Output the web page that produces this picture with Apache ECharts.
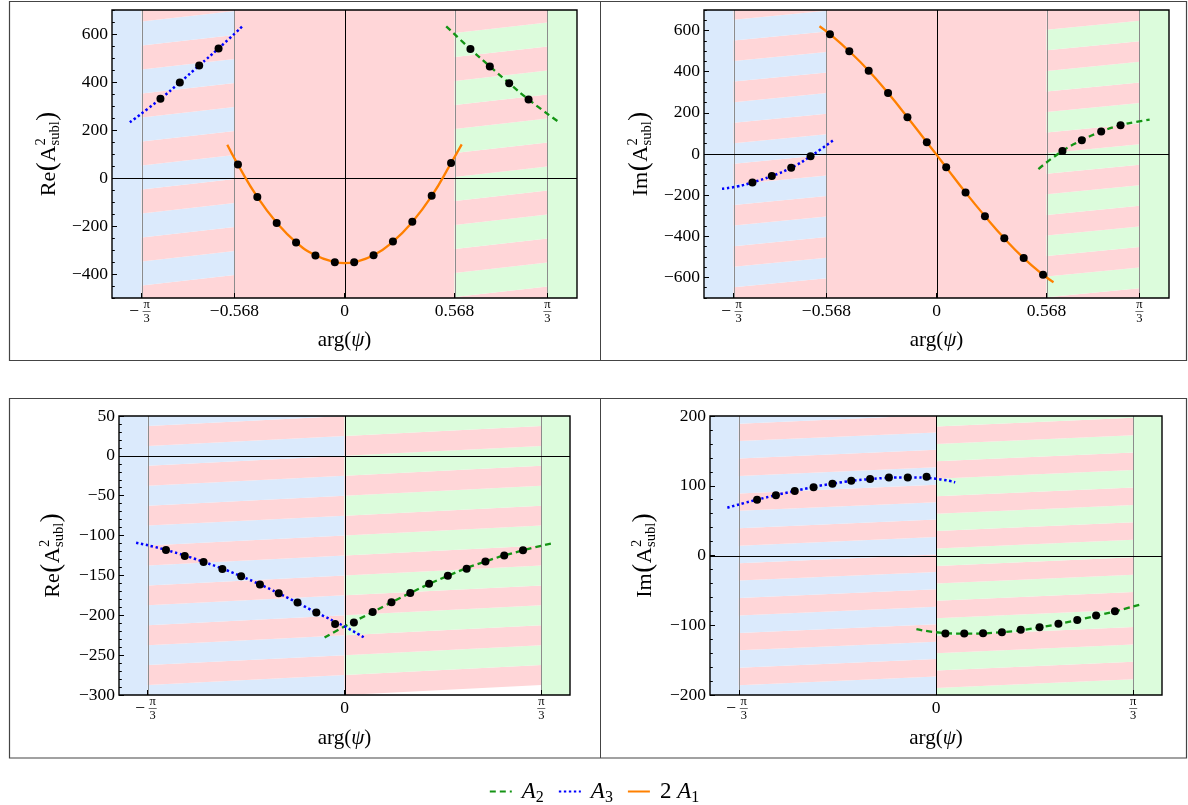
<!DOCTYPE html>
<html><head><meta charset="utf-8">
<script src="https://cdn.jsdelivr.net/npm/echarts@6/dist/echarts.min.js"></script>
<style>html,body{margin:0;padding:0;background:#fff;}#c{width:1188px;height:805px;}</style>
</head><body><div id="c"></div>
<script>
const PI3 = Math.PI / 3;

// ---------------- tick values ----------------
const xTicksTop = [-PI3, -0.568, 0, 0.568, PI3];
const xLabelsTop = [-0.568, 0, 0.568];
const xTicksBot = [-PI3, 0, PI3];
const xLabelsBot = [0];
const yTicks1 = [-400, -200, 0, 200, 400, 600];
const yTicks2 = [-600, -400, -200, 0, 200, 400, 600];
const yTicks3 = [-300, -250, -200, -150, -100, -50, 0, 50];
const yTicks4 = [-200, -100, 0, 100, 200];

// ---------------- data: dot x positions ----------------
const xA1dots = [-0.55, -0.45, -0.35, -0.25, -0.15, -0.05, 0.05, 0.15, 0.25, 0.35, 0.45, 0.55];
const xA3dotsTop = [-0.95, -0.85, -0.75, -0.65];
const xA2dotsTop = [0.65, 0.75, 0.85, 0.95];
const xA3dotsBot = [-0.95, -0.85, -0.75, -0.65, -0.55, -0.45, -0.35, -0.25, -0.15, -0.05];
const xA2dotsBot = [0.05, 0.15, 0.25, 0.35, 0.45, 0.55, 0.65, 0.75, 0.85, 0.95];

// Panel 1: Re, top left
const p1_A1_dots = [56, -79, -187, -269, -323, -351, -351, -322, -265, -182, -74, 63];
const p1_A3_dots = [330, 398, 469, 540];
const p1_A2_dots = [537, 465, 395, 327];
const p1_A1_cx = [-0.605, -0.55, -0.45, -0.35, -0.25, -0.15, -0.05, 0, 0.05, 0.15, 0.25, 0.35, 0.45, 0.55, 0.605];
const p1_A1_cy = [139, 56, -79, -186, -268, -322, -350, -355, -350, -322, -265, -183, -75, 62, 140];
const p1_A3_cx = [-1.108, -0.95, -0.85, -0.75, -0.65, -0.527];
const p1_A3_cy = [232, 330, 398, 469, 540, 632];
const p1_A2_cx = [0.525, 0.65, 0.75, 0.85, 0.95, 1.108];
const p1_A2_cy = [632, 537, 465, 395, 327, 232];

// Panel 2: Im, top right
const p2_A1_dots = [582, 499, 405, 296, 179, 57, -65, -187, -302, -410, -506, -587];
const p2_A3_dots = [-138, -107, -67, -11];
const p2_A2_dots = [15, 67, 109, 140];
const p2_A1_cx = [-0.604, -0.55, -0.45, -0.35, -0.25, -0.15, -0.05, 0, 0.05, 0.15, 0.25, 0.35, 0.45, 0.55, 0.604];
const p2_A1_cy = [621, 582, 499, 405, 296, 179, 57, -3, -65, -187, -302, -410, -506, -587, -623];
const p2_A3_cx = [-1.107, -1.03, -0.95, -0.85, -0.75, -0.65, -0.526];
const p2_A3_cy = [-169, -158, -138, -107, -67, -11, 72];
const p2_A2_cx = [0.526, 0.65, 0.75, 0.85, 0.95, 1.03, 1.1];
const p2_A2_cy = [-73, 15, 67, 109, 140, 156, 167];

// Panel 3: Re, bottom left
const p3_A3_dots = [-118, -125.5, -133, -142, -151, -161.5, -172.5, -184, -196.5, -211];
const p3_A2_dots = [-209, -196, -183.5, -172, -160.5, -150.5, -141.5, -132.5, -125, -118.5];
const p3_A3_cx = [-1.109, -0.95, -0.75, -0.55, -0.35, -0.15, 0, 0.102];
const p3_A3_cy = [-109, -118, -133, -151, -172.5, -196.5, -214, -227.6];
const p3_A2_cx = [-0.106, 0, 0.15, 0.35, 0.55, 0.75, 0.95, 1.101];
const p3_A2_cy = [-228, -214, -196, -172, -150.5, -132.5, -118.5, -110];

// Panel 4: Im, bottom right
const p4_A3_dots = [80, 86.5, 92.5, 98, 103, 107, 109.5, 112, 112, 113];
const p4_A2_dots = [-112, -112, -111.5, -110, -106.5, -103, -98, -92.5, -86, -80];
const p4_A3_cx = [-1.108, -0.95, -0.75, -0.55, -0.35, -0.15, 0, 0.102];
const p4_A3_cy = [68.5, 80, 92.5, 103, 109.5, 112, 110, 105];
const p4_A2_cx = [-0.104, 0, 0.15, 0.35, 0.55, 0.75, 0.95, 1.094];
const p4_A2_cy = [-105.5, -110, -112, -110, -103, -92.5, -80, -69.5];

// ---------------- background regions ----------------
// solids: [x0, x1, colorIndex]; stripes: [x0, x1, boundaryAtX0, riseToX1, bandWidth, colorEven, colorOdd, kMin]
const solidsTop = [[-1.2, -PI3, 1], [-0.568, 0.568, 0], [PI3, 1.2, 2]];
const stripesTop = [[-PI3, -0.568, 52, 44, 100, 0, 1], [0.568, PI3, 4, 44, 100, 0, 2]];
const solidsBot = [[-1.2, -PI3, 1], [PI3, 1.2, 2]];
const stripesBL = [[-PI3, 0, 12.5, 12.5, 25, 0, 1], [0, PI3, 0, 12.5, 25, 0, 2, -12]];
const stripesBR = [[-PI3, 0, 14, 12.5, 25, 0, 1], [0, PI3, 10, 12.5, 25, 0, 2]];

const FONT = "'Liberation Serif','Times New Roman',serif";
const bgColors = ['#ffd6d8', '#dbeafc', '#dcfcdc'];
const lineColors = ['#8c8c8c', '#000000'];
const C_A2 = '#149414', C_A3 = '#0000ff', C_A1 = '#ff8000';

const zip = (xs, ys) => xs.map((x, i) => [x, ys[i]]);

const panels = [
  { grid: {left: 112, top: 10, width: 465, height: 288}, y: [-500, 700], minor: 50, yTicks: yTicks1,
    xTicks: xTicksTop, xLabels: xLabelsTop, solids: solidsTop, stripes: stripesTop,
    curves: [['A2', p1_A2_cx, p1_A2_cy], ['A3', p1_A3_cx, p1_A3_cy], ['2A1', p1_A1_cx, p1_A1_cy]],
    dots: [[xA3dotsTop, p1_A3_dots], [xA1dots, p1_A1_dots], [xA2dotsTop, p1_A2_dots]],
    title: 'Re', tx: 49 },
  { grid: {left: 704, top: 10, width: 465, height: 288}, y: [-700, 700], minor: 50, yTicks: yTicks2,
    xTicks: xTicksTop, xLabels: xLabelsTop, solids: solidsTop, stripes: stripesTop,
    curves: [['A2', p2_A2_cx, p2_A2_cy], ['A3', p2_A3_cx, p2_A3_cy], ['2A1', p2_A1_cx, p2_A1_cy]],
    dots: [[xA3dotsTop, p2_A3_dots], [xA1dots, p2_A1_dots], [xA2dotsTop, p2_A2_dots]],
    title: 'Im', tx: 641 },
  { grid: {left: 119, top: 416, width: 451, height: 279}, y: [-300, 50], minor: 10, yTicks: yTicks3,
    xTicks: xTicksBot, xLabels: xLabelsBot, solids: solidsBot, stripes: stripesBL,
    curves: [['A2', p3_A2_cx, p3_A2_cy], ['A3', p3_A3_cx, p3_A3_cy]],
    dots: [[xA3dotsBot, p3_A3_dots], [xA2dotsBot, p3_A2_dots]],
    title: 'Re', tx: 53 },
  { grid: {left: 710, top: 416, width: 452, height: 279}, y: [-200, 200], minor: 20, yTicks: yTicks4,
    xTicks: xTicksBot, xLabels: xLabelsBot, solids: solidsBot, stripes: stripesBR,
    curves: [['A2', p4_A2_cx, p4_A2_cy], ['A3', p4_A3_cx, p4_A3_cy]],
    dots: [[xA3dotsBot, p4_A3_dots], [xA2dotsBot, p4_A2_dots]],
    title: 'Im', tx: 645 }
];

function buildBg(p) {
  const [ymin, ymax] = p.y, items = [];
  p.solids.forEach(s => items.push([s[0], s[1], ymin, ymax, ymin, ymax, s[2]]));
  p.stripes.forEach(s => {
    const [x0, x1, base, rise, w, c0, c1, kMinOpt] = s;
    const kMin = kMinOpt != null ? kMinOpt : Math.floor((ymin - base - rise) / w) - 1;
    const kMax = Math.ceil((ymax - base) / w) + 1;
    for (let k = kMin; k <= kMax; k++) {
      const yb = base + k * w;
      items.push([x0, x1, yb, yb + w, yb + rise, yb + w + rise, ((k % 2) + 2) % 2 === 0 ? c0 : c1]);
    }
  });
  return items;
}
function buildLines(p) {
  const [ymin, ymax] = p.y, items = [];
  p.xTicks.forEach(v => items.push([v, ymin, v, ymax, v === 0 ? 1 : 0]));
  items.push([-1.2, 0, 1.2, 0, 1]);
  return items;
}
function renderBg(params, api) {
  const x0 = api.value(0), x1 = api.value(1);
  const pts = [api.coord([x0, api.value(2)]), api.coord([x1, api.value(4)]),
               api.coord([x1, api.value(5)]), api.coord([x0, api.value(3)])];
  return { type: 'polygon', shape: { points: pts }, style: { fill: bgColors[api.value(6)] } };
}
function renderLine(params, api) {
  const a = api.coord([api.value(0), api.value(1)]), b = api.coord([api.value(2), api.value(3)]);
  if (api.value(0) === api.value(2)) { const x = Math.round(a[0]) + 0.5; a[0] = x; b[0] = x; }
  else { const y = Math.round(a[1]) + 0.5; a[1] = y; b[1] = y; }
  return { type: 'line', shape: { x1: a[0], y1: a[1], x2: b[0], y2: b[1] },
           style: { stroke: lineColors[api.value(4)], lineWidth: 1 } };
}
const fmtNum = v => (v < 0 ? '\u2212' : '') + String(Math.abs(v));

const grids = [], xAxes = [], yAxes = [], series = [];
const lineStyles = {
  'A2': { color: C_A2, width: 2.3, type: [6, 4] },
  'A3': { color: C_A3, width: 2.5, type: [2.4, 2.6], cap: 'butt' },
  '2A1': { color: C_A1, width: 2.3, type: 'solid' }
};
panels.forEach((p, g) => {
  grids.push(Object.assign({ show: true, borderColor: '#000', borderWidth: 1.4,
    backgroundColor: 'rgba(0,0,0,0)', z: 20 }, p.grid));
  xAxes.push({
    gridIndex: g, type: 'value', min: -1.2, max: 1.2, z: 21, position: 'bottom',
    axisLine: { show: false, onZero: false }, splitLine: { show: false },
    axisTick: { show: true, inside: true, length: 5, customValues: p.xTicks, lineStyle: { color: '#000', width: 1 } },
    axisLabel: { customValues: p.xLabels, formatter: v => (v < 0 ? '\u2212' : '') + (v === 0 ? '0' : Math.abs(v).toFixed(3)),
      fontFamily: FONT, fontSize: 17.5, color: '#000', margin: 4 },
    name: 'arg({i|\u03c8})', nameLocation: 'middle', nameGap: g < 2 ? 32 : 33,
    nameTextStyle: { fontFamily: FONT, fontSize: 21, color: '#000',
      rich: { i: { fontFamily: FONT, fontSize: 21, fontStyle: 'italic', color: '#000' } } }
  });
  yAxes.push({
    gridIndex: g, type: 'value', min: p.y[0], max: p.y[1], position: 'left', z: 21,
    axisLine: { show: false, onZero: false }, splitLine: { show: false },
    axisTick: { show: true, inside: true, length: 5, customValues: p.yTicks, lineStyle: { color: '#000', width: 1 } },
    axisLabel: { customValues: p.yTicks, formatter: fmtNum, fontFamily: FONT, fontSize: 17.5, color: '#000', margin: 4 }
  });
  yAxes.push({
    gridIndex: g, type: 'value', min: p.y[0], max: p.y[1], interval: p.minor, position: 'left', offset: 0, z: 21,
    axisLine: { show: false, onZero: false }, splitLine: { show: false }, axisLabel: { show: false },
    axisTick: { show: true, inside: true, length: 2.8, lineStyle: { color: '#000', width: 1 } }
  });
  const yi = 2 * g;
  series.push({ type: 'custom', xAxisIndex: g, yAxisIndex: yi, clip: true, silent: true, z: 1,
    renderItem: renderBg, data: buildBg(p) });
  series.push({ type: 'custom', xAxisIndex: g, yAxisIndex: yi, clip: true, silent: true, z: 3,
    renderItem: renderLine, data: buildLines(p) });
  p.curves.forEach(c => series.push({
    type: 'line', name: c[0], xAxisIndex: g, yAxisIndex: yi, data: zip(c[1], c[2]), smooth: 0.5,
    symbol: 'none', showSymbol: false, z: 10, silent: true, lineStyle: lineStyles[c[0]], itemStyle: { color: lineStyles[c[0]].color }
  }));
  let dots = [];
  p.dots.forEach(d => { dots = dots.concat(zip(d[0], d[1])); });
  series.push({ type: 'scatter', xAxisIndex: g, yAxisIndex: yi, data: dots, symbolSize: 8,
    itemStyle: { color: '#000', opacity: 1 }, z: 12, silent: true });
});

const chart = echarts.init(document.getElementById('c'));
chart.setOption({
  animation: false,
  grid: grids, xAxis: xAxes, yAxis: yAxes, series: series,
  legend: {
    data: ['A2', 'A3', '2A1'], left: 'center', top: 775, itemWidth: 22, itemHeight: 12, itemGap: 14,
    itemStyle: { opacity: 0 },
    formatter: n => n === 'A2' ? '{i0|A}{s|2}' : n === 'A3' ? '{i0|A}{s|3}' : '{n0|2 }{i|A}{s|1}',
    textStyle: { fontFamily: FONT, fontSize: 23, color: '#000',
      rich: {
        i0: { fontFamily: FONT, fontSize: 23, fontStyle: 'italic', lineHeight: 28, padding: [0, 0, 0, 5], color: '#000' },
        i: { fontFamily: FONT, fontSize: 23, fontStyle: 'italic', lineHeight: 28, color: '#000' },
        n0: { fontFamily: FONT, fontSize: 23, lineHeight: 28, padding: [0, 0, 0, 5], color: '#000' },
        s: { fontFamily: FONT, fontSize: 16, lineHeight: 16, verticalAlign: 'bottom', color: '#000' }
      } }
  }
});

// ---------------- texts: axis titles, fraction tick labels, frames ----------------
const mctx = document.createElement('canvas').getContext('2d');
function tw(t, size, italic) { mctx.font = (italic ? 'italic ' : '') + size + 'px ' + FONT; return mctx.measureText(t).width; }
function txt(t, x, y, size, opts) {
  opts = opts || {};
  return { type: 'text', x: x, y: y, silent: true, style: { text: t, fontSize: size, fontFamily: FONT,
    fontStyle: opts.italic ? 'italic' : 'normal', fill: '#000',
    align: opts.align || 'left', verticalAlign: 'middle', textAlign: opts.align || 'left', textVerticalAlign: 'middle' } };
}
function yTitle(prefix, cx, cy) {
  const S = 22, P = 27, s = 14.5;
  const parts = [];
  let x = 0;
  parts.push(txt(prefix, x, 0, S)); x += tw(prefix, S) + 0.5;
  parts.push(txt('(', x, -1, P)); x += tw('(', P) + 0.5;
  parts.push(txt('A', x, 0, S)); x += tw('A', S) + 0.5;
  parts.push(txt('2', x, -8, s)); parts.push(txt('subl', x, 6.5, s));
  x += Math.max(tw('2', s), tw('subl', s)) + 0.5;
  parts.push(txt(')', x, -1, P)); x += tw(')', P);
  const L = x;
  parts.forEach(e => { e.x -= L / 2; });
  return { type: 'group', x: cx, y: cy, rotation: Math.PI / 2, children: parts };
}
const graphics = [];
// panel frames
graphics.push({ type: 'rect', silent: true, shape: { x: 9.5, y: 1.5, width: 1177, height: 359 }, style: { fill: 'none', stroke: '#444', lineWidth: 1.2 } });
graphics.push({ type: 'line', silent: true, shape: { x1: 600.5, y1: 1.5, x2: 600.5, y2: 360.5 }, style: { stroke: '#444', lineWidth: 1 } });
graphics.push({ type: 'rect', silent: true, shape: { x: 9.5, y: 398.5, width: 1177, height: 359.5 }, style: { fill: 'none', stroke: '#444', lineWidth: 1.2 } });
graphics.push({ type: 'line', silent: true, shape: { x1: 600.5, y1: 398.5, x2: 600.5, y2: 758 }, style: { stroke: '#444', lineWidth: 1 } });

panels.forEach((p, g) => {
  const cy = p.grid.top + p.grid.height / 2;
  graphics.push(yTitle(p.title, p.tx, cy));
  const B = p.grid.top + p.grid.height;
  [-PI3, PI3].forEach(v => {
    const X = chart.convertToPixel({ xAxisIndex: g }, v);
    const fx = v < 0 ? X + 5 : X;
    graphics.push(txt('\u03c0', fx, B + 7, 12.5, { align: 'center' }));
    graphics.push(txt('3', fx, B + 20.5, 12.5, { align: 'center' }));
    graphics.push({ type: 'line', silent: true, shape: { x1: fx - 4, y1: B + 13.5, x2: fx + 4, y2: B + 13.5 }, style: { stroke: '#333', lineWidth: 0.7 } });
    if (v < 0) graphics.push(txt('\u2212', X - 7.5, B + 13, 17.5, { align: 'center' }));
  });
});
chart.setOption({ graphic: graphics });
</script>
</body></html>
